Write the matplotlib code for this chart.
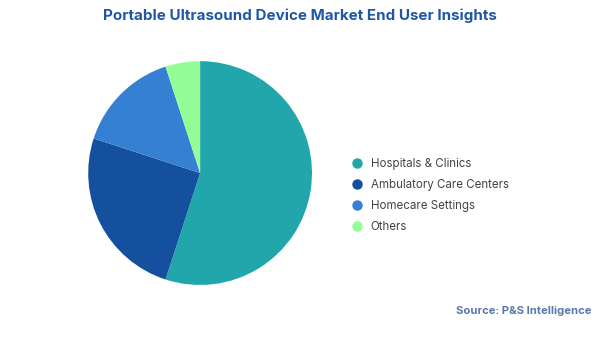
import matplotlib.pyplot as plt
from matplotlib.lines import Line2D

plt.rcParams['font.family'] = ['Inter', 'DejaVu Sans']

labels = ['Hospitals & Clinics', 'Ambulatory Care Centers', 'Homecare Settings', 'Others']
shares = [55, 25, 15, 5]
colors = ['#21a7ab', '#15509e', '#3580d2', '#95fd96']

fig = plt.figure(figsize=(6, 3.37), dpi=100)
ax = fig.add_axes([0.147, 0.154, 0.373, 0.665])
ax.pie(shares, colors=colors, startangle=90, counterclock=False,
       wedgeprops={'linewidth': 0})
ax.set_xlim(-1, 1)
ax.set_ylim(-1, 1)
ax.set_aspect('equal')

fig.text(0.5, 0.953, 'Portable Ultrasound Device Market End User Insights',
         ha='center', va='center', fontsize=10.9, fontweight='bold', color='#1f56a6')

handles = [Line2D([], [], marker='o', linestyle='', markersize=6.5,
                  markerfacecolor=c, markeredgecolor=c) for c in colors]
fig.legend(handles, labels, loc='center left', bbox_to_anchor=(0.568, 0.42),
           frameon=False, fontsize=8.3, labelcolor='#444444',
           handletextpad=0.7, labelspacing=0.78, handlelength=1.0)

fig.text(0.985, 0.077, 'Source: P&S Intelligence', ha='right', va='center',
         fontsize=8.1, fontweight='bold', color='#5a78aa')

fig.savefig('out.png', dpi=100)
